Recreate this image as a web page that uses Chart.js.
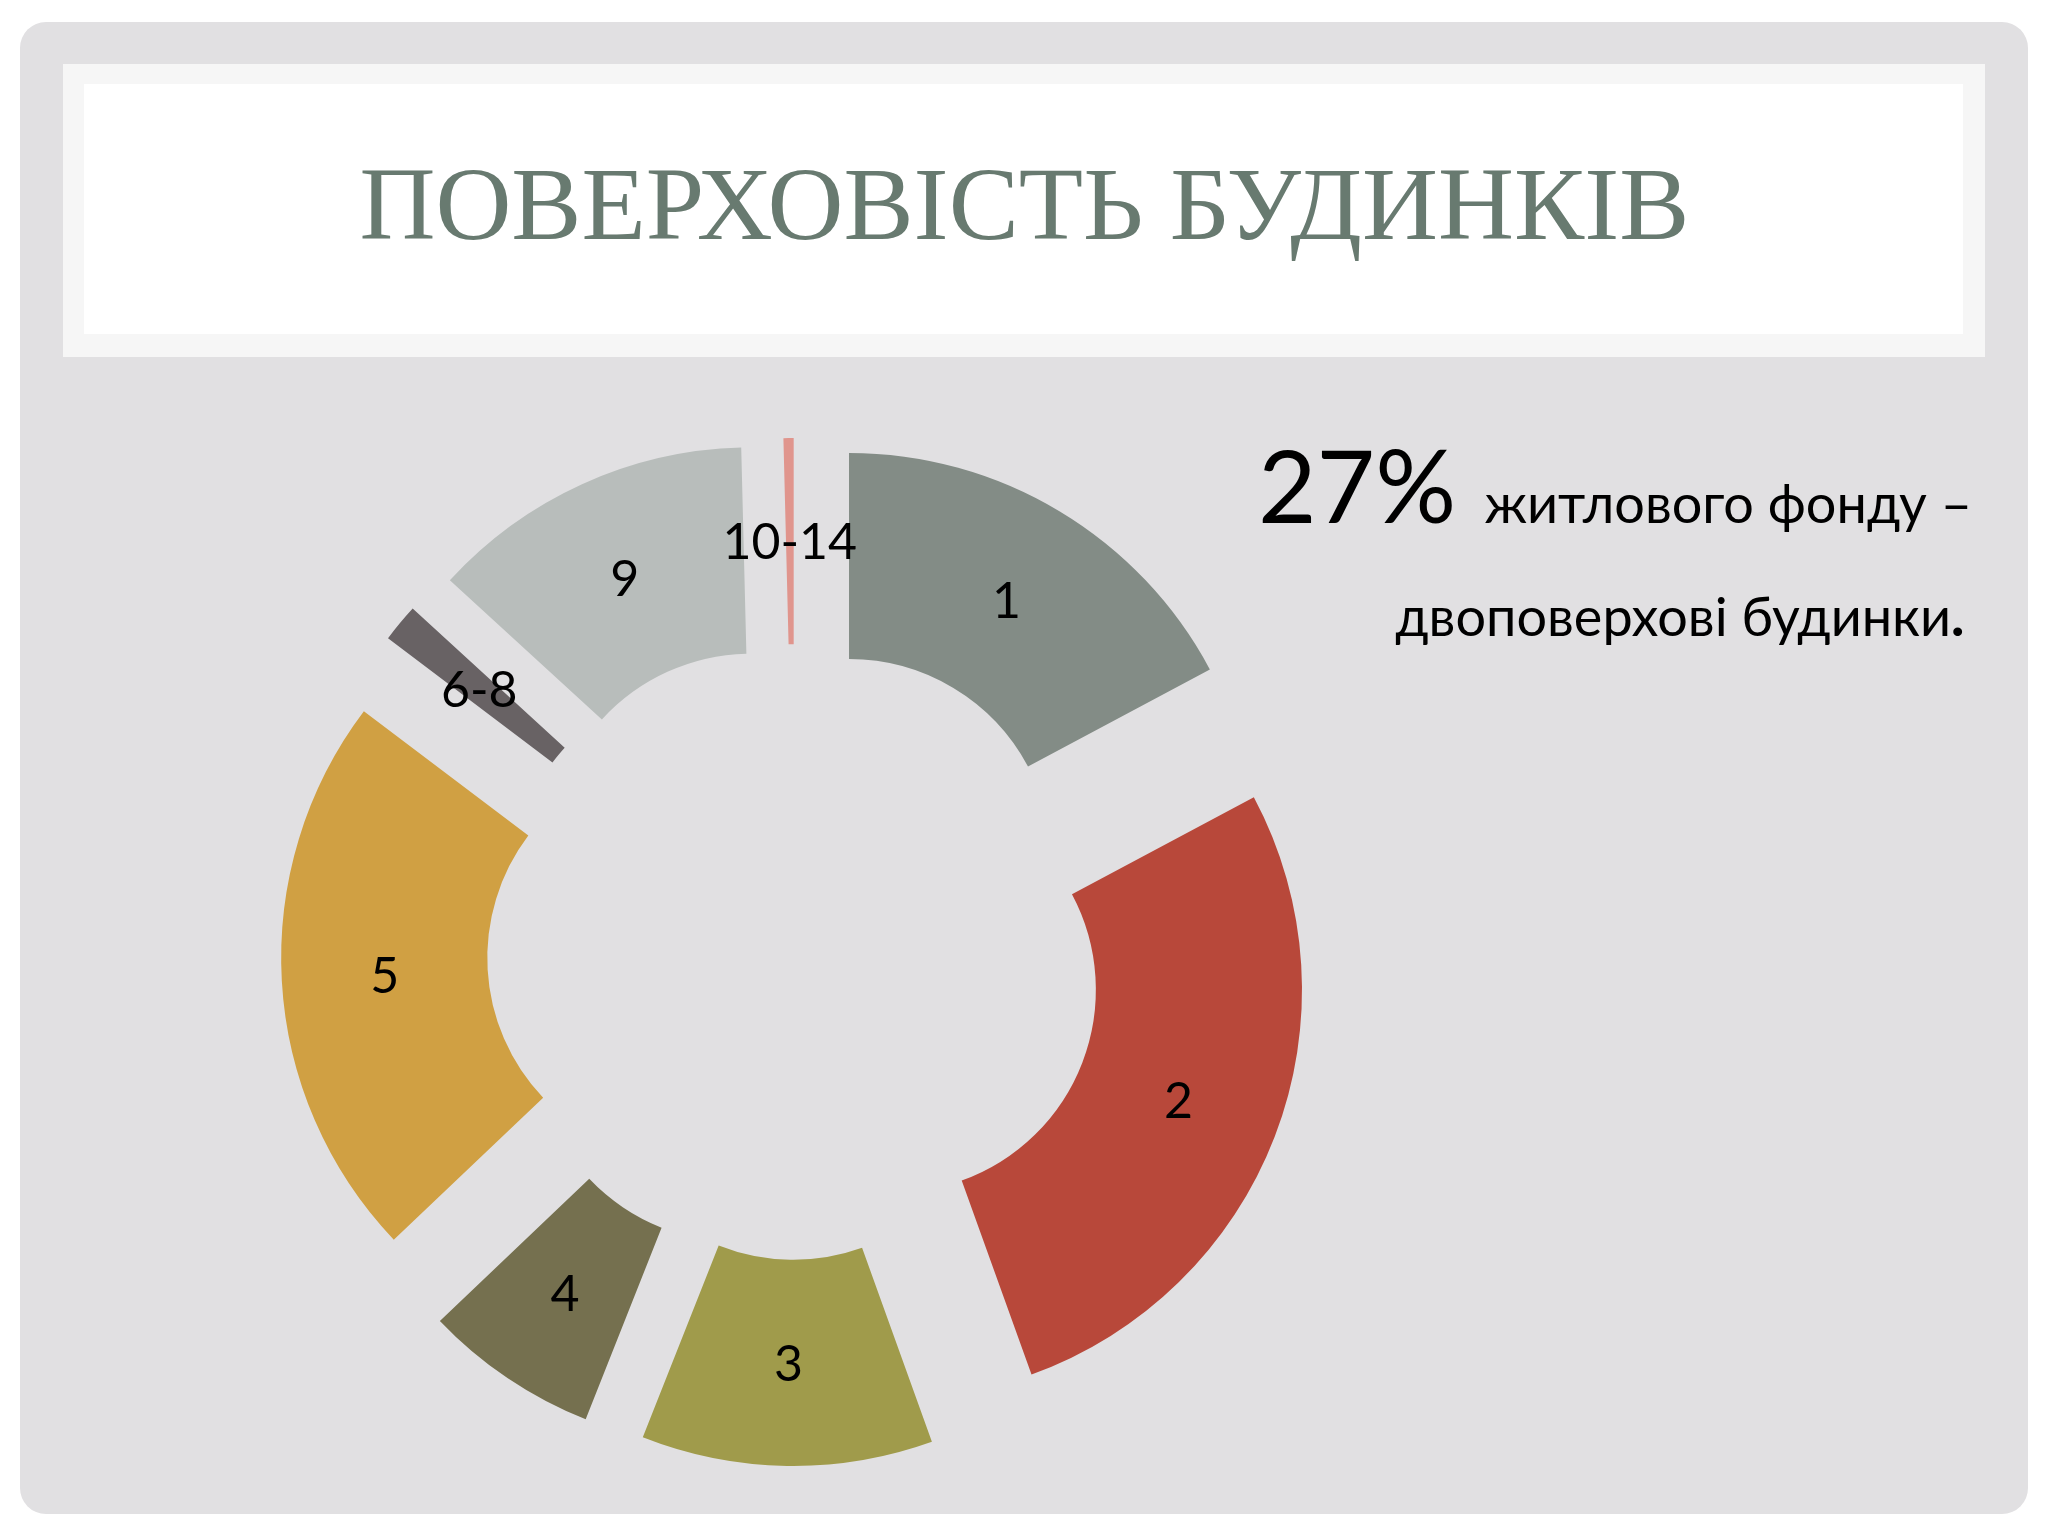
<!DOCTYPE html>
<html lang="uk">
<head>
<meta charset="utf-8">
<title>Поверховість будинків</title>
<script src="https://cdn.jsdelivr.net/npm/chart.js@4.4.1/dist/chart.umd.min.js"></script>
<style>
html, body { margin: 0; padding: 0; background: #ffffff; }
body { width: 2048px; height: 1536px; position: relative; overflow: hidden; font-family: Lato, "Noto Sans", sans-serif; }
#frame { position: absolute; left: 20px; top: 22px; width: 2008px; height: 1492px; background: #e1e0e2; border-radius: 26px; }
#banner { position: absolute; left: 63px; top: 64px; width: 1922px; height: 293px; background: #f6f6f6; }
#bannerInner { position: absolute; left: 21px; top: 20px; right: 22px; bottom: 23px; background: #ffffff; }
#title { position: absolute; left: 0; width: 2048px; top: 152px; text-align: center; line-height: 1;
  font-family: "Liberation Serif", "DejaVu Serif", serif; font-size: 104px; color: #687a70; white-space: nowrap; }
#title span { display: inline-block; transform-origin: center; }
.txt { position: absolute; line-height: 1; white-space: nowrap; color: #000; }
#big { left: 1258px; top: 434px; font-size: 101px; }
#line1 { right: 76px; top: 476px; font-size: 54px; }
#line2 { right: 84px; top: 589px; font-size: 54px; }
#line2 b { font-weight: 900; }
#chartBox { position: absolute; left: 245px; top: 402px; width: 1100px; height: 1100px; }
</style>
</head>
<body>
<div id="frame"></div>
<div id="banner"><div id="bannerInner"></div></div>
<div id="title"><span id="titleText">ПОВЕРХОВІСТЬ БУДИНКІВ</span></div>
<div id="chartBox"><canvas id="floorsChart"></canvas></div>
<div class="txt" id="big">27%</div>
<div class="txt" id="line1">житлового фонду –</div>
<div class="txt" id="line2">двоповерхові будинки<b>.</b></div>
<script>
// storeys of houses, share of housing stock (%)
const floorLabels = ["1", "2", "3", "4", "5", "6-8", "9", "10-14"];
const floorShares = [17.2, 27.3, 11.5, 6.9, 22.4, 1.5, 12.8, 0.4];
const floorColors = ["#838c86", "#b8483a", "#a09b4b", "#75704f", "#d0a043", "#686264", "#b8bdbb", "#e0958d"];

const EXPLODE = 105;
const LABEL_SIZE = 50;

// squeeze the title to the reference width
const titleSpan = document.getElementById("titleText");
const tw = titleSpan.getBoundingClientRect().width;
titleSpan.style.transform = "scaleX(" + (1330 / tw) + ")";

// every slice pushed out from the centre by the same distance
const explodePlugin = {
  id: "explode",
  beforeDatasetDraw(chart, args) {
    const ctx = chart.ctx;
    args.meta.data.forEach(arc => {
      const mid = (arc.startAngle + arc.endAngle) / 2;
      ctx.save();
      ctx.translate(Math.cos(mid) * EXPLODE, Math.sin(mid) * EXPLODE);
      arc.draw(ctx);
      ctx.restore();
    });
    return false;
  }
};

const labelPlugin = {
  id: "sliceLabels",
  afterDatasetsDraw(chart) {
    const ctx = chart.ctx;
    const meta = chart.getDatasetMeta(0);
    ctx.save();
    ctx.font = LABEL_SIZE + "px Lato, 'Noto Sans', sans-serif";
    ctx.fillStyle = "#000";
    ctx.textAlign = "center";
    ctx.textBaseline = "alphabetic";
    meta.data.forEach((arc, i) => {
      const mid = (arc.startAngle + arc.endAngle) / 2;
      const r = (arc.innerRadius + arc.outerRadius) / 2 + EXPLODE;
      // centre the digits (cap height) on the slice centroid
      ctx.fillText(chart.data.labels[i], arc.x + Math.cos(mid) * r, arc.y + Math.sin(mid) * r + LABEL_SIZE * 0.36);
    });
    ctx.restore();
  }
};

new Chart(document.getElementById("floorsChart"), {
  type: "doughnut",
  data: {
    labels: floorLabels,
    datasets: [{
      data: floorShares,
      backgroundColor: floorColors,
      borderWidth: 0
    }]
  },
  options: {
    responsive: true,
    maintainAspectRatio: false,
    animation: false,
    events: [],
    radius: 409,
    cutout: "49.6%",
    layout: { padding: 0 },
    plugins: {
      legend: { display: false },
      tooltip: { enabled: false }
    }
  },
  plugins: [explodePlugin, labelPlugin]
});
</script>
</body>
</html>
